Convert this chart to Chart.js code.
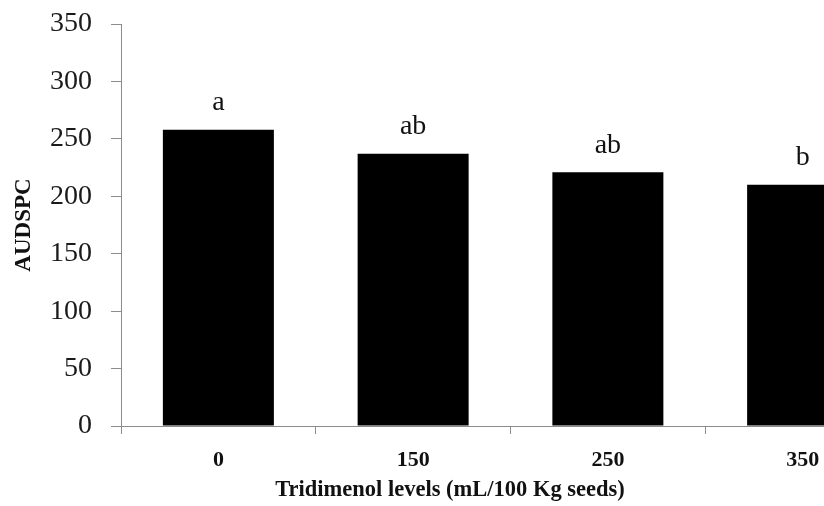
<!DOCTYPE html>
<html>
<head>
<meta charset="utf-8">
<script src="https://cdn.jsdelivr.net/npm/chart.js@4/dist/chart.umd.min.js"></script>
<style>
  html, body { margin: 0; padding: 0; background: #fff; overflow: hidden; }
  #wrap { width: 920px; height: 506px; }
</style>
</head>
<body>
<div id="wrap"><canvas id="graph" width="920" height="506"></canvas></div>
<script>
/********************* data *********************/
const levels = ['0', '150', '250', '350'];
const audspc = [258, 237, 221, 210];
const groups = ['a', 'ab', 'ab', 'b'];
const yTicks = [0, 50, 100, 150, 200, 250, 300, 350];

const serif = "'Liberation Serif', 'Times New Roman', serif";
const axisGray = '#8c8c8c';

// letters over the bars
const groupLetters = {
    id: 'groupLetters',
    afterDatasetsDraw(chart) {
        const ctx = chart.ctx;
        const bars = chart.getDatasetMeta(0).data;
        ctx.save();
        ctx.font = '28px ' + serif;
        ctx.fillStyle = '#111';
        ctx.textAlign = 'center';
        ctx.textBaseline = 'middle';
        bars.forEach((bar, i) => {
            ctx.fillText(groups[i], bar.x, bar.y - 27);
        });
        ctx.restore();
    }
};

/********************* chart *********************/
const ctx = document.getElementById('graph');
const chart = new Chart(ctx, {
    type: 'bar',
    data: {
        labels: levels,
        datasets: [{
            data: audspc,
            backgroundColor: '#000',
            borderWidth: 0,
            barPercentage: 0.57,
            categoryPercentage: 1
        }]
    },
    plugins: [groupLetters],
    options: {
        responsive: false,
        animation: false,
        layout: { padding: { left: 0, top: 24, right: 20, bottom: 0 } },
        plugins: {
            legend: { display: false },
            tooltip: { enabled: false },
            title: {
                display: true,
                position: 'bottom',
                text: 'Tridimenol levels (mL/100 Kg seeds)',
                color: '#111',
                font: { family: serif, size: 22.5, weight: 'bold' },
                padding: { top: 0, bottom: 2 }
            }
        },
        scales: {
            x: {
                grid: {
                    drawOnChartArea: false,
                    drawTicks: true,
                    tickLength: 8,
                    color: axisGray
                },
                border: { color: axisGray, width: 1 },
                ticks: {
                    color: '#111',
                    font: { family: serif, size: 22, weight: 'bold' },
                    padding: 13
                },
                afterFit: s => { s.height = 51; }
            },
            y: {
                min: 0,
                max: 350,
                afterBuildTicks: s => { s.ticks = yTicks.map(v => ({ value: v })); },
                grid: {
                    drawOnChartArea: false,
                    tickLength: 10,
                    color: axisGray
                },
                border: { color: axisGray, width: 1 },
                ticks: {
                    color: '#1a1a1a',
                    font: { family: serif, size: 28 },
                    padding: 19
                },
                title: {
                    display: true,
                    text: 'AUDSPC',
                    color: '#111',
                    font: { family: serif, size: 23, weight: 'bold' },
                    padding: { top: 10, bottom: 0 }
                },
                afterFit: s => {
                    s.width = 121;
                    s.paddingTop = 0;
                    s.paddingBottom = 0;
                }
            }
        }
    }
});
</script>
</body>
</html>
